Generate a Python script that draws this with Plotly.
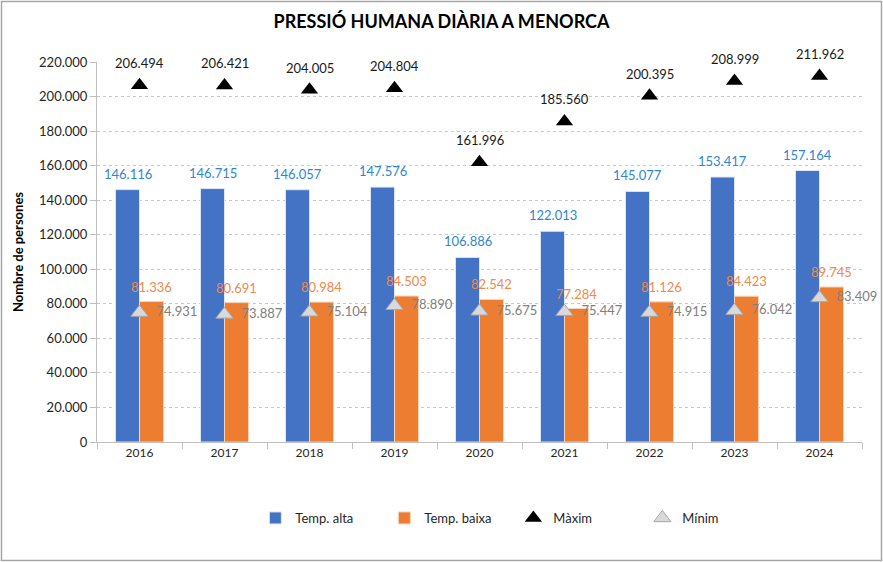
import plotly.graph_objects as go

years = ["2016", "2017", "2018", "2019", "2020", "2021", "2022", "2023", "2024"]
temp_alta = [146116, 146715, 146057, 147576, 106886, 122013, 145077, 153417, 157164]
temp_baixa = [81336, 80691, 80984, 84503, 82542, 77284, 81126, 84423, 89745]
maxim = [206494, 206421, 204005, 204804, 161996, 185560, 200395, 208999, 211962]
minim = [74931, 73887, 75104, 78890, 75675, 75447, 74915, 76042, 83409]

W, H = 883, 562
ML, MR, MT, MB = 97, 21, 62, 120
PW, PH = W - ML - MR, H - MT - MB

FONT = "Lato"

def fmt(v):
    return f"{v:,}".replace(",", ".")

fig = go.Figure()

fig.add_trace(go.Bar(
    x=years, y=temp_alta, name="Temp. alta",
    marker=dict(color="#4472C4", line=dict(color="#DCE6F5", width=1)),
))
fig.add_trace(go.Bar(
    x=years, y=temp_baixa, name="Temp. baixa",
    marker=dict(color="#ED7D31", line=dict(color="#F8D3BB", width=1)),
))
fig.add_trace(go.Scatter(
    x=years, y=maxim, name="Màxim", mode="markers",
    marker=dict(symbol="triangle-up", size=15, color="black"),
    cliponaxis=False,
))
fig.add_trace(go.Scatter(
    x=years, y=minim, name="Mínim", mode="markers+text",
    marker=dict(symbol="triangle-up", size=15, color="#D9D9D9",
                line=dict(color="#A6A6A6", width=1)),
    text=["  " + fmt(v) for v in minim], textposition="middle right",
    textfont=dict(color="#808080", size=13), cliponaxis=False,
))

# data labels (x = category index, since the year names look numeric)
for i, (a, b, mx) in enumerate(zip(temp_alta, temp_baixa, maxim)):
    fig.add_annotation(x=i, y=a, text=fmt(a), showarrow=False, xshift=-12, yshift=16,
                       font=dict(color="#2E86D1", size=13))
    fig.add_annotation(x=i, y=b, text=fmt(b), showarrow=False, xshift=12, yshift=15,
                       font=dict(color="#F0894A", size=13))
    fig.add_annotation(x=i, y=mx, text=fmt(mx), showarrow=False, yshift=22,
                       font=dict(color="#1A1A1A", size=13))

# chart border
fig.add_shape(
    type="rect", xref="paper", yref="paper",
    x0=(1.5 - ML) / PW, x1=(W - 1.5 - ML) / PW,
    y0=(H - MB - (H - 1.5)) / PH, y1=(H - MB - 1.5) / PH,
    line=dict(color="#A6A6A6", width=1.5), fillcolor="rgba(0,0,0,0)",
)

fig.update_layout(
    width=W, height=H,
    margin=dict(l=ML, r=MR, t=MT, b=MB, autoexpand=False),
    paper_bgcolor="white", plot_bgcolor="white",
    font=dict(family=FONT, size=12, color="#262626"),
    separators=",.",
    title=dict(text="<b>PRESSIÓ HUMANA DIÀRIA A MENORCA</b>",
               x=0.5, xref="container", xanchor="center",
               y=1 - 22 / H, yanchor="middle",
               font=dict(size=18, color="black", family=FONT)),
    barmode="group", bargap=0.435, bargroupgap=0,
    showlegend=True,
    legend=dict(orientation="h", x=0.207, xanchor="left", y=-0.2, yanchor="middle",
                font=dict(size=13, color="#262626"), traceorder="normal",
                itemwidth=30, entrywidth=84),
    xaxis=dict(
        type="category", range=[-0.5, len(years) - 0.5],
        showline=True, linecolor="#BFBFBF", linewidth=1,
        ticks="outside", tickson="boundaries", ticklen=6, tickcolor="#BFBFBF",
        tickfont=dict(size=12, color="#262626"), showgrid=False, automargin=False,
    ),
    yaxis=dict(
        range=[0, 220000], dtick=20000, tickformat=",.0f",
        showline=True, linecolor="#BFBFBF", linewidth=1,
        ticks="outside", ticklen=6, tickcolor="#BFBFBF",
        showgrid=True, gridcolor="#C8C8C8", griddash="dot", gridwidth=1,
        zeroline=False, automargin=False,
        tickfont=dict(size=13, color="#262626"),
        title=dict(text="<b>Nombre de persones</b>", font=dict(size=13, color="black"),
                   standoff=12),
    ),
)

fig.write_html("out.html", config={"displayModeBar": False},
               post_script="document.body.style.margin='0px';")
